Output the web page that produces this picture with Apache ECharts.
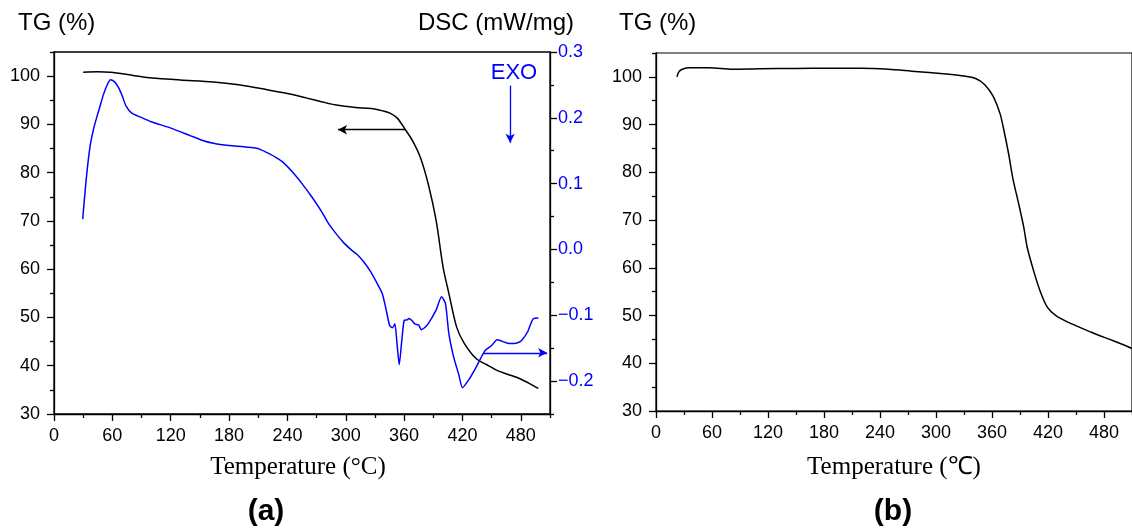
<!DOCTYPE html>
<html>
<head>
<meta charset="utf-8">
<script src="https://cdn.jsdelivr.net/npm/echarts@6/dist/echarts.min.js"></script>
<style>
html,body{margin:0;padding:0;background:#fff;}
#chart{width:1132px;height:528px;}
</style>
</head>
<body>
<div id="chart"></div>
<script>
// ---------- data ----------
const xMajorTicks = [0, 60, 120, 180, 240, 300, 360, 420, 480];
const xMinorTicks = [30, 90, 150, 210, 270, 330, 390, 450, 510];
const tgMajorTicks = [30, 40, 50, 60, 70, 80, 90, 100];
const tgMinorTicks = [35, 45, 55, 65, 75, 85, 95, 105];
const dscMajorTicks = [-0.2, -0.1, 0.0, 0.1, 0.2, 0.3];
const dscMinorTicks = [-0.25, -0.15, -0.05, 0.05, 0.15, 0.25];

// (a) TG curve  [temperature °C, mass %]
const tgA = [[30,100.8],[45,100.9],[58,100.8],[80,100.2],[101,99.6],[130,99.2],[164,98.8],[190,98.2],[219,97.2],[240,96.4],[259,95.5],[275,94.7],[290,94.0],[310,93.5],[326,93.3],[338,92.8],[346,92.3],[353,91.3],[361,89.0],[369,86.5],[377,83.0],[385,77.5],[393,70.0],[400,60.5],[406,55.0],[414,48.0],[422,44.6],[434,41.5],[445,40.2],[456,39.0],[467,38.2],[479,37.3],[490,36.2],[498,35.3]];

// (a) DSC curve  [temperature °C, mW/mg]
const dscA = [[29.5,0.046],[33,0.105],[37,0.156],[41,0.185],[44,0.201],[47,0.216],[51,0.236],[55,0.251],[58,0.258],[62,0.255],[66,0.247],[70,0.234],[74,0.218],[80,0.207],[89,0.201],[100,0.194],[121,0.184],[140,0.173],[152,0.166],[165,0.161],[180,0.158],[195,0.156],[207,0.154],[212,0.152],[219,0.147],[228,0.140],[235,0.133],[245,0.118],[255,0.100],[265,0.080],[274.5,0.059],[282,0.040],[290,0.024],[298,0.010],[306,-0.001],[312,-0.008],[318,-0.018],[325.7,-0.034],[333.5,-0.055],[337.5,-0.067],[341,-0.088],[345,-0.115],[348,-0.119],[350.5,-0.113],[352.5,-0.140],[355,-0.175],[357.5,-0.140],[360,-0.108],[363,-0.107],[365,-0.105],[368,-0.108],[371,-0.113],[375,-0.115],[377.7,-0.122],[381,-0.119],[384.7,-0.113],[392.6,-0.093],[398.5,-0.072],[402.5,-0.082],[406,-0.128],[411,-0.164],[416,-0.189],[420,-0.210],[426,-0.199],[434,-0.179],[443,-0.154],[450,-0.146],[455.6,-0.137],[460,-0.139],[463.5,-0.141],[468,-0.143],[473,-0.143],[478,-0.141],[481,-0.138],[487,-0.125],[491,-0.110],[493,-0.105],[498,-0.104]];

// (b) TG curve
const tgB = [[22.5,100.0],[24,100.9],[27,101.5],[35,101.9],[57,101.9],[82,101.6],[111,101.7],[150,101.75],[184,101.8],[220,101.8],[249,101.6],[274,101.2],[311,100.6],[329,100.2],[343,99.6],[352,98.4],[361,96.0],[368.6,92.3],[372,89.5],[377.7,84.0],[382.4,78.7],[388.6,73.4],[394,68.5],[397.7,64.3],[405,59.1],[412,54.9],[419.4,51.7],[428.5,50.0],[444.8,48.3],[466.5,46.5],[484.7,45.1],[498,44.1],[510,43.1]];

// annotation arrows (data coordinates)
const tgArrowA = [[361, 88.9], [292, 88.9]];
const exoArrow = [[469, 0.249], [469, 0.162]];
const dscArrowA = [[442, -0.157], [507, -0.157]];

// ---------- styling helpers ----------
const BLACK = '#000';
const BLUE = '#0000ff';
const FONT = 'Liberation Sans, Arial, sans-serif';
const TICK_FS = 18;
const lineStyle = {color: BLACK, width: 1.3};

function mainAxis(extra, ticks, labelExtra) {
  return Object.assign({
    type: 'value',
    axisLine: {show: true, onZero: false, lineStyle: lineStyle},
    axisTick: {show: true, inside: false, length: 7, lineStyle: lineStyle, customValues: ticks},
    splitLine: {show: false},
    axisLabel: Object.assign({color: BLACK, fontSize: TICK_FS, fontFamily: FONT, margin: 13, customValues: ticks}, labelExtra || {}),
  }, extra);
}
function minorAxis(extra, ticks) {
  return Object.assign({
    type: 'value',
    axisLine: {show: false, onZero: false},
    axisTick: {show: true, inside: false, length: 4, lineStyle: lineStyle, customValues: ticks},
    splitLine: {show: false},
    axisLabel: {show: false},
  }, extra);
}

const chart = echarts.init(document.getElementById('chart'), null, {renderer: 'canvas'});

const option = {
  animation: false,
  backgroundColor: '#fff',
  grid: [
    {left: 54, top: 52, width: 496, height: 362, show: true, borderColor: BLACK, borderWidth: 1.3, backgroundColor: 'transparent'},
    {left: 656, top: 53, width: 487, height: 358, show: true, borderColor: BLACK, borderWidth: 1.2, backgroundColor: 'transparent'}
  ],
  xAxis: [
    mainAxis({gridIndex: 0, position: 'bottom', min: 0, max: 510}, xMajorTicks),
    minorAxis({gridIndex: 0, position: 'bottom', min: 0, max: 510}, xMinorTicks),
    mainAxis({gridIndex: 1, position: 'bottom', min: 0, max: 510}, xMajorTicks),
    minorAxis({gridIndex: 1, position: 'bottom', min: 0, max: 510}, xMinorTicks)
  ],
  yAxis: [
    mainAxis({gridIndex: 0, position: 'left', min: 30, max: 105}, tgMajorTicks, {margin: 14}),
    minorAxis({gridIndex: 0, position: 'left', min: 30, max: 105}, tgMinorTicks),
    mainAxis({gridIndex: 0, position: 'right', min: -0.25, max: 0.3}, dscMajorTicks,
      {color: BLUE, margin: 8, formatter: v => (v < -1e-9 ? '\u2212' : '') + Math.abs(v).toFixed(1)}),
    minorAxis({gridIndex: 0, position: 'right', min: -0.25, max: 0.3}, dscMinorTicks),
    mainAxis({gridIndex: 1, position: 'left', min: 30, max: 105}, tgMajorTicks, {margin: 14}),
    minorAxis({gridIndex: 1, position: 'left', min: 30, max: 105}, tgMinorTicks)
  ],
  series: [
    {
      name: 'TG (a)', type: 'line', xAxisIndex: 0, yAxisIndex: 0,
      data: tgA, showSymbol: false, smooth: 0.3,
      lineStyle: {color: BLACK, width: 1.5}, silent: true,
      markLine: {
        silent: true, symbol: ['none', 'arrow'], symbolSize: [7, 9],
        label: {show: false},
        lineStyle: {color: BLACK, width: 1.3, type: 'solid'},
        data: [[{coord: tgArrowA[0]}, {coord: tgArrowA[1]}]]
      }
    },
    {
      name: 'DSC (a)', type: 'line', xAxisIndex: 0, yAxisIndex: 2,
      data: dscA, showSymbol: false, smooth: 0.2,
      lineStyle: {color: BLUE, width: 1.5}, silent: true,
      markLine: {
        silent: true, symbol: ['none', 'arrow'], symbolSize: [7, 9],
        label: {show: false},
        lineStyle: {color: BLUE, width: 1.3, type: 'solid'},
        data: [
          [{coord: exoArrow[0]}, {coord: exoArrow[1]}],
          [{coord: dscArrowA[0]}, {coord: dscArrowA[1]}]
        ]
      }
    },
    {
      name: 'TG (b)', type: 'line', xAxisIndex: 2, yAxisIndex: 4,
      data: tgB, showSymbol: false, smooth: 0.3,
      lineStyle: {color: BLACK, width: 1.5}, silent: true
    }
  ],
  graphic: [
    {type: 'text', left: 18, top: 11, style: {text: 'TG (%)', fontSize: 24, fontFamily: FONT, fill: BLACK}},
    {type: 'text', right: 1132 - 574, top: 11, style: {text: 'DSC (mW/mg)', fontSize: 24, fontFamily: FONT, fill: BLACK}},
    {type: 'text', left: 619, top: 11, style: {text: 'TG (%)', fontSize: 24, fontFamily: FONT, fill: BLACK}},
    {type: 'text', x: 514, y: 73, style: {text: 'EXO', fontSize: 22, fontFamily: FONT, fill: BLUE, align: 'center', verticalAlign: 'middle'}},
    {type: 'text', x: 298, y: 467, style: {text: 'Temperature (°C)', fontSize: 25, fontFamily: 'Liberation Serif, Times New Roman, serif', fill: BLACK, align: 'center', verticalAlign: 'middle'}},
    {type: 'text', x: 894, y: 467, style: {text: 'Temperature (\u2103)', fontSize: 25, fontFamily: 'Liberation Serif, Times New Roman, serif', fill: BLACK, align: 'center', verticalAlign: 'middle'}},
    {type: 'text', x: 266, y: 512, style: {text: '(a)', fontSize: 30, fontWeight: 'bold', fontFamily: FONT, fill: BLACK, align: 'center', verticalAlign: 'middle'}},
    {type: 'text', x: 893, y: 512, style: {text: '(b)', fontSize: 30, fontWeight: 'bold', fontFamily: FONT, fill: BLACK, align: 'center', verticalAlign: 'middle'}}
  ]
};
chart.setOption(option);
</script>
</body>
</html>
